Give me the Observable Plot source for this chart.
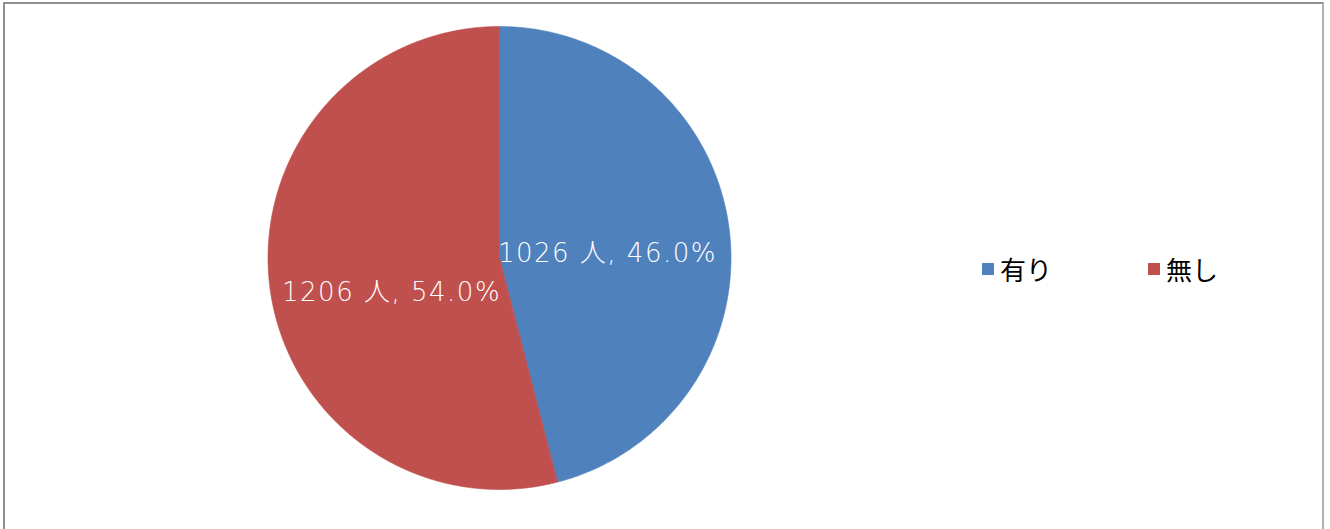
<!DOCTYPE html>
<html>
<head>
<meta charset="utf-8">
<script src="https://cdn.jsdelivr.net/npm/d3@7"></script>
<script src="https://cdn.jsdelivr.net/npm/@observablehq/plot@0.6"></script>
<style>
  html, body { margin: 0; padding: 0; background: #fff; }
  body { width: 1330px; height: 529px; overflow: hidden; position: relative; font-family: "Noto Sans CJK JP", sans-serif; }
  #frame { position: absolute; left: 3px; top: 2px; width: 1321px; height: 560px; border: 2px solid #8f8f8f; border-right-color: #b0b0b0; box-sizing: border-box; }
  #chart { position: absolute; left: 0; top: 0; }
  #chart text { letter-spacing: 1.5px; }
  #legend { position: absolute; left: 982px; top: 250px; display: flex; align-items: center; font-size: 26px; color: #000; }
  .item { display: flex; align-items: center; }
  .sw { width: 12px; height: 12px; margin-right: 6px; }
</style>
</head>
<body>
<div id="frame"></div>
<div id="chart"></div>
<div id="legend"></div>
<script>
const categories = ["有り", "無し"];
const counts = [1026, 1206];
const percents = [46.0, 54.0];
const colors = ["#4F81BD", "#C0504D"];
const unit = "人";

const pie = d3.pie().sort(null).value(d => d)(counts);

// Build slice outlines in unit coordinates (angle clockwise from top)
const pts = [];
pie.forEach((s, i) => {
  const n = Math.max(2, Math.ceil((s.endAngle - s.startAngle) / (Math.PI / 360)));
  pts.push({name: categories[i], x: 0, y: 0});
  for (let k = 0; k <= n; k++) {
    const a = s.startAngle + (s.endAngle - s.startAngle) * k / n;
    pts.push({name: categories[i], x: Math.sin(a), y: Math.cos(a)});
  }
  pts.push({name: categories[i], x: 0, y: 0});
});

const labels = pie.map((s, i) => {
  const a = (s.startAngle + s.endAngle) / 2;
  const r = 0.47;
  return {name: categories[i], x: r * Math.sin(a), y: r * Math.cos(a),
          text: `${counts[i]} ${unit}, ${percents[i].toFixed(1)}%`};
});

const textOpts = {x: "x", y: "y", text: "text", fill: "white", fontSize: 26,
  fontFamily: "'DejaVu Sans', 'Noto Sans CJK JP', sans-serif", fontWeight: 200, textAnchor: "middle"};

const chart = Plot.plot({
  width: 1330,
  height: 529,
  margin: 0,
  x: {domain: [-1, 1], range: [267.5, 730.5], axis: null},
  y: {domain: [-1, 1], range: [489, 26], axis: null},
  color: {domain: categories, range: colors},
  style: {background: "transparent"},
  marks: [
    Plot.line(pts, {x: "x", y: "y", z: "name", fill: "name", stroke: "name", strokeWidth: 0.6, curve: "linear"}),
    Plot.text([labels[0]], {...textOpts, dy: 9}),
    Plot.text([labels[1]], {...textOpts, dy: 21})
  ]
});
document.getElementById("chart").appendChild(chart);

const legend = document.getElementById("legend");
categories.forEach((c, i) => {
  const item = document.createElement("div");
  item.className = "item";
  if (i > 0) item.style.marginLeft = "96px";
  const sw = document.createElement("div");
  sw.className = "sw";
  sw.style.background = colors[i];
  const t = document.createElement("span");
  t.textContent = c;
  item.appendChild(sw);
  item.appendChild(t);
  legend.appendChild(item);
});
</script>
</body>
</html>
